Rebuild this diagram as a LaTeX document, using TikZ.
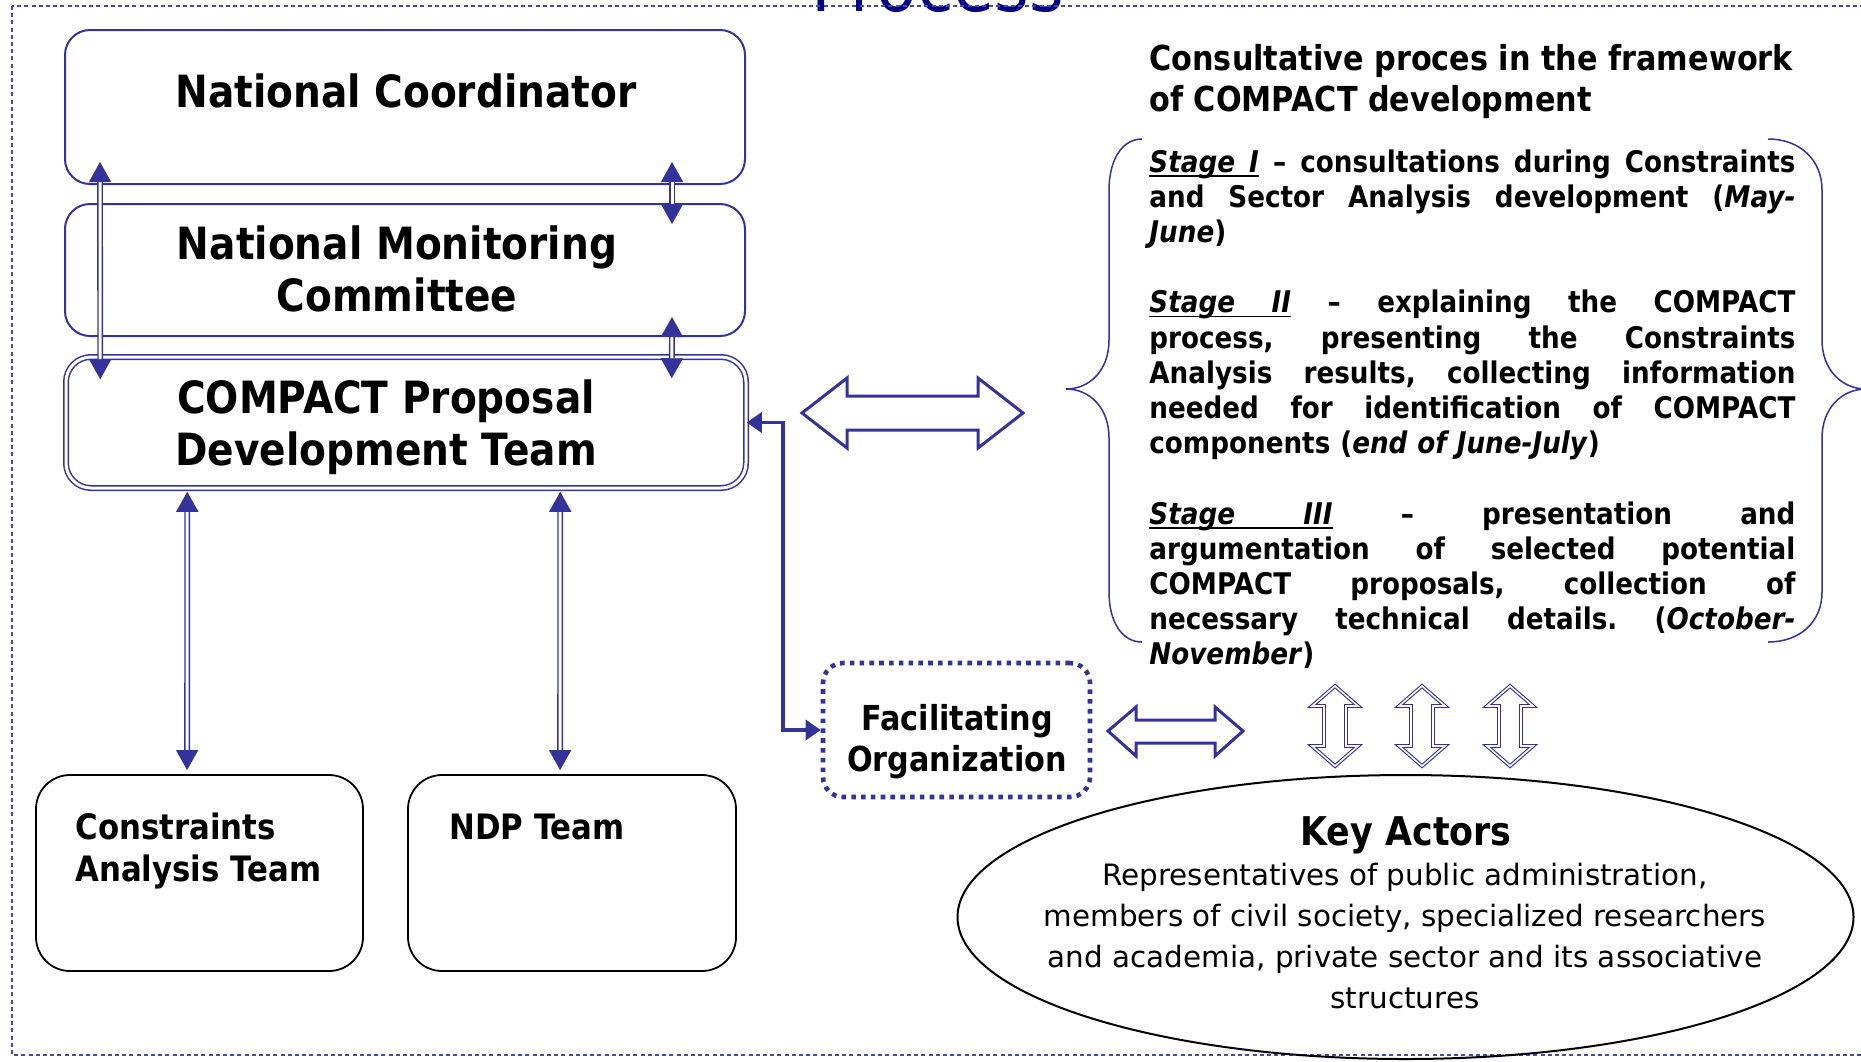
\documentclass[tikz,border=0pt]{standalone}
\usepackage{fontspec}
\setmainfont{DejaVu Sans}[FakeStretch=0.88]
\newfontfamily\regfont{DejaVu Sans}
\usepackage{xcolor}
\definecolor{BoxBlue}{RGB}{51,51,153}
\definecolor{FrameBlue}{RGB}{72,72,176}
\definecolor{TitleNavy}{RGB}{0,0,128}
\usepackage{tikz}
\usetikzlibrary{
  arrows.meta,
  shapes.geometric,
  calc
}
\frenchspacing
\newlength{\stagew}
\setlength{\stagew}{323pt}
\newcommand{\jline}[1]{\makebox[\stagew][s]{\spaceskip=0pt\xspaceskip=0pt\relax #1}}
\newcommand{\ulw}[1]{\setbox0\hbox{#1}\rlap{\vrule height -1.4pt depth 2.3pt width \wd0}\box0}
\newcommand{\uls}{\leaders\hrule height -1.4pt depth 2.3pt\hskip\fontdimen2\font plus\fontdimen3\font minus\fontdimen4\font}
\tikzset{
  % Blue rounded box
  bluebox/.style={
    rectangle,
    rounded corners=12.5pt,
    draw=BoxBlue,
    line width=1pt,
    inner sep=0pt
  },
  % Blue box with double border
  dblbox/.style={
    rectangle,
    rounded corners=12.5pt,
    draw=BoxBlue,
    double=white,
    double distance=1.5pt,
    line width=0.75pt,
    inner sep=0pt
  },
  % Black rounded team box
  teambox/.style={rectangle, rounded corners=17pt, draw=black, line width=0.9pt, inner sep=0pt},
  % Dotted box
  dotbox/.style={rectangle, rounded corners=10pt, draw=BoxBlue, line width=2.3pt, dash pattern=on 2.3pt off 2.6pt, inner sep=0pt},
  % Ellipse
  actors/.style={ellipse, draw=black, line width=1pt, inner sep=0pt},
  % Texts
  boxtitle/.style={font=\fontsize{22.2}{26}\selectfont\bfseries, align=center, inner sep=0pt},
  teamtext/.style={font=\fontsize{17.5}{21}\selectfont\bfseries, align=left, inner sep=0pt},
  fotext/.style={font=\fontsize{17.2}{20.5}\selectfont\bfseries, align=center, inner sep=0pt},
  headtext/.style={font=\fontsize{17.2}{20.3}\selectfont\bfseries, align=left, inner sep=0pt},
  stagetext/.style={font=\fontsize{14.9}{17.6}\selectfont\bfseries, text width=\stagew, align=left, inner sep=0pt},
  kahead/.style={font=\fontsize{19.8}{22}\selectfont\bfseries, inner sep=0pt},
  katext/.style={font=\regfont\fontsize{14.7}{20.35}\selectfont, align=center, inner sep=0pt},
  titletext/.style={font=\fontsize{37.8}{40}\selectfont, text=TitleNavy, inner sep=0pt},
  % Frame
  frame/.style={draw=FrameBlue, line width=0.6pt, dash pattern=on 2pt off 1.6pt},
  % Double-lined arrow
  dblarrow/.style={
    draw=BoxBlue,
    double=white,
    double distance=1.5pt,
    line width=0.7pt,
    {Triangle[width=11pt,length=10pt]}-{Triangle[width=11pt,length=10pt]}
  },
  % Elbow arrow
  elbow/.style={draw=BoxBlue, line width=1.8pt, {Triangle[width=10pt,length=7.5pt]}-{Triangle[width=10pt,length=7.5pt]}},
  % Hollow block arrows
  blockarrow/.style={draw=BoxBlue, line width=1.5pt, fill=white, line join=miter},
  dblblock/.style={draw=BoxBlue, double=white, double distance=0.8pt, line width=0.55pt, line join=miter},
  % Braces
  brace/.style={draw=BoxBlue, line width=0.75pt}
}

\begin{document}
\begin{tikzpicture}[x=0.5pt, y=-0.5pt]
  \useasboundingbox (0,0) rectangle (1861,1061);
  \fill[white] (0,0) rectangle (1861,1061);
  \node[titletext, anchor=base] (title) at (938,11) {Process};
  \draw[frame] (12,6) rectangle (1880,1055);

  \node[bluebox, minimum width=340pt, minimum height=77pt] (nc) at (405,107) {};
  \node[bluebox, minimum width=340pt, minimum height=66pt] (nmc) at (405,270) {};
  \node[dblbox, minimum width=340pt, minimum height=65.5pt] (cpdt) at (406,422.5) {};
  \node[teambox, minimum width=163.5pt, minimum height=98pt] (cat) at (199.5,873) {};
  \node[teambox, minimum width=164pt, minimum height=98pt] (ndp) at (572,873) {};
  \node[dotbox, minimum width=133.5pt, minimum height=67pt] (fo) at (956.5,730) {};
  \node[actors, minimum width=448pt, minimum height=142pt] (ka) at (1405.5,917) {};

  \node[boxtitle, anchor=base] (nc-t) at (406,107) {National Coordinator};
  \node[boxtitle, anchor=base] (nmc-t) at (397,311) {National Monitoring\\Committee};
  \node[boxtitle, anchor=base] (cpdt-t) at (386,465) {COMPACT Proposal\\Development Team};
  \node[teamtext, anchor=base west] (cat-t) at (75,881) {Constraints\\Analysis Team};
  \node[teamtext, anchor=base west] (ndp-t) at (449,839) {NDP Team};
  \node[fotext, anchor=base] (fo-t) at (957,771) {Facilitating\\Organization};
  \node[kahead, anchor=base] (ka-h) at (1406,845) {Key Actors};
  \node[katext, anchor=base] (ka-t) at (1405,1008) {Representatives of public administration,\\members of civil society, specialized researchers\\and academia, private sector and its associative\\structures};

  \node[headtext, anchor=base west] (head) at (1149,111) {Consultative proces in the framework\\of COMPACT development};
  \node[stagetext, anchor=base west] (stages) at (1149,172) {%
    \jline{\textit{\ulw{Stage}\uls\ulw{I}} – consultations during Constraints}\\
    \jline{and Sector Analysis development (\textit{May-}}\\
    \textit{June})\\[17.6pt]
    \jline{\textit{\ulw{Stage}\uls\ulw{II}} – explaining the COMPACT}\\
    \jline{process, presenting the Constraints}\\
    \jline{Analysis results, collecting information}\\
    \jline{needed for identification of COMPACT}\\
    components (\textit{end of June-July})\\[17.6pt]
    \jline{\textit{\ulw{Stage}\uls\ulw{III}} – presentation and}\\
    \jline{argumentation of selected potential}\\
    \jline{COMPACT proposals, collection of}\\
    \jline{necessary technical details. (\textit{October-}}\\
    \textit{November})};

  \draw[brace] (1142,139) .. controls (1122,139) and (1109,160) .. (1109,190) -- (1109,340)
    .. controls (1109,370) and (1090,389) .. (1066,389)
    .. controls (1090,389) and (1109,408) .. (1109,438) -- (1109,592)
    .. controls (1109,622) and (1122,642) .. (1142,642);
  \draw[brace] (1768,139) .. controls (1800,139) and (1822,160) .. (1822,190) -- (1822,340)
    .. controls (1822,370) and (1842,389) .. (1866,389)
    .. controls (1842,389) and (1822,408) .. (1822,438) -- (1822,592)
    .. controls (1822,622) and (1800,642) .. (1768,642);

  \draw[dblarrow] ($(nc.south west)+(36,-23)$) -- ($(cpdt.north west)+(35,23)$);
  \draw[dblarrow] ($(nc.south east)+(-74,-23)$) -- ($(nmc.north east)+(-74,21)$);
  \draw[dblarrow] ($(nmc.south east)+(-74,-20)$) -- ($(cpdt.north east)+(-75,22)$);
  \draw[dblarrow] ($(cpdt.south west)+(122,3)$) -- ($(cat.north west)+(152,-4)$);
  \draw[dblarrow] ($(cpdt.south west)+(495,3)$) -- ($(ndp.north west)+(153,-4)$);
  \draw[elbow] (cpdt.east) -- ++(36,0) |- (fo.west);

  \draw[blockarrow] (802,413) -- (847,378) -- (847,396) -- (978,396) -- (978,378) -- (1023,413)
    -- (978,448) -- (978,430) -- (847,430) -- (847,448) -- cycle;
  \draw[blockarrow] (1108,731) -- (1136,707) -- (1136,720) -- (1215,720) -- (1215,707) -- (1243,731)
    -- (1215,756) -- (1215,743) -- (1136,743) -- (1136,756) -- cycle;
  \foreach \cx in {1335,1422,1510} {
    \draw[dblblock] (\cx,686) -- (\cx+23,706) -- (\cx+11,706) -- (\cx+11,746) -- (\cx+23,746) -- (\cx,766)
      -- (\cx-23,746) -- (\cx-11,746) -- (\cx-11,706) -- (\cx-23,706) -- cycle;
  }
\end{tikzpicture}
\end{document}
